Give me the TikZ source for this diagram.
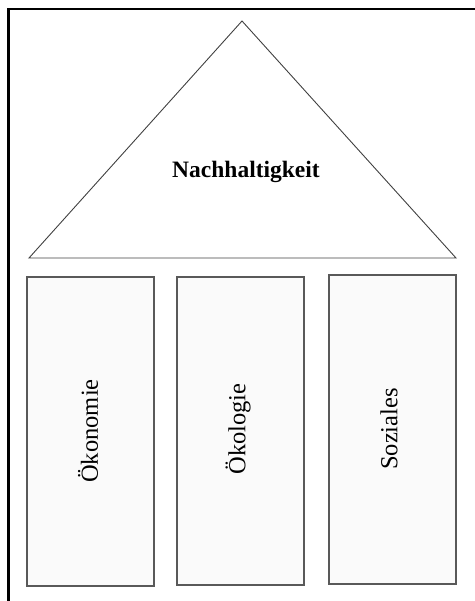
\documentclass[tikz,border=0pt]{standalone}
\usepackage{fontspec}
\setmainfont{Liberation Serif}
\begin{document}
\begin{tikzpicture}[x=1pt,y=-1pt,
  roofline/.style={draw=black!75,line width=0.9pt},
  pillar/.style={draw=black!65,line width=1.2pt,fill=black!2},
  pillartext/.style={font=\fontsize{24.5}{29}\selectfont,rotate=90,inner sep=0pt},
  rooftext/.style={font=\fontsize{23.5}{28}\selectfont\bfseries,inner sep=0pt}]
  \useasboundingbox (0,0) rectangle (474,601);
  % outer frame (open to the right and bottom)
  \draw[line width=2.4pt,black] (8.5,620) -- (8.5,9) -- (480,9);
  % roof
  \coordinate (apex) at (242,21);
  \coordinate (bl) at (29,258);
  \coordinate (br) at (456,258);
  \draw[roofline] (apex) -- (bl) -- (br) -- cycle;
  \node[rooftext] (roof) at (246,172) {Nachhaltigkeit};
  % pillars
  \path[pillar] (27,277) rectangle (154,586);
  \path[pillar] (177,277) rectangle (304,585);
  \path[pillar] (329,275) rectangle (456,584);
  \node[pillartext] (oek) at (88,431) {Ökonomie};
  \node[pillartext] (oeko) at (238,429) {Ökologie};
  \node[pillartext] (soz) at (389,429) {Soziales};
\end{tikzpicture}
\end{document}
